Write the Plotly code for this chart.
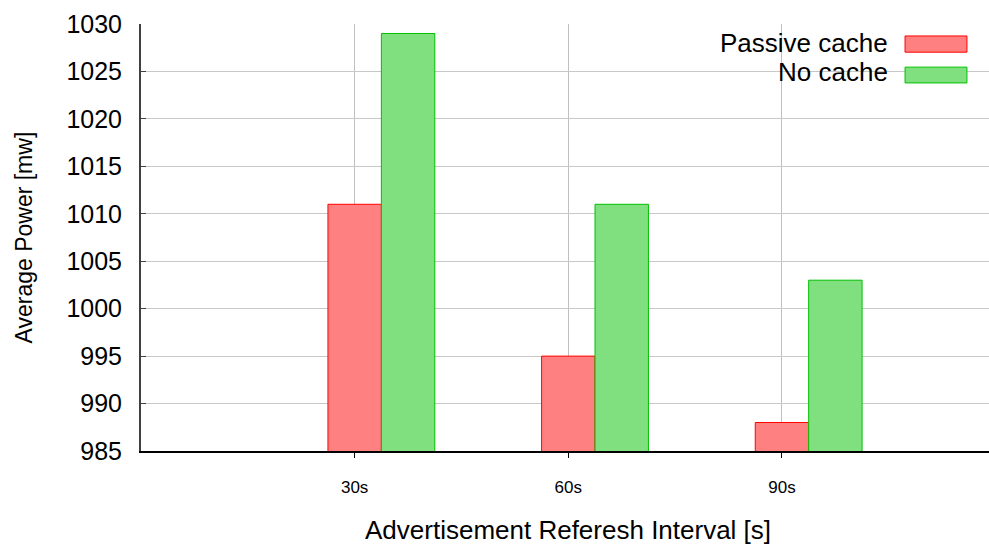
import plotly.graph_objects as go

categories = ["30s", "60s", "90s"]
passive_cache = [1011, 995, 988]
no_cache = [1029, 1011, 1003]
y_ticks = [985, 990, 995, 1000, 1005, 1010, 1015, 1020, 1025, 1030]

FONT = "Arial, Liberation Sans, sans-serif"
RED_FILL, RED_LINE = "#ff8080", "#ff0000"
GREEN_FILL, GREEN_LINE = "#80e080", "#00c000"

fig = go.Figure()
fig.add_trace(go.Bar(
    x=categories, y=passive_cache, name="Passive cache",
    width=0.25, offset=-0.125,
    marker=dict(color=RED_FILL, line=dict(color=RED_LINE, width=1)),
    showlegend=False,
))
fig.add_trace(go.Bar(
    x=categories, y=no_cache, name="No cache",
    width=0.25, offset=0.125,
    marker=dict(color=GREEN_FILL, line=dict(color=GREEN_LINE, width=1)),
    showlegend=False,
))

fig.update_layout(
    width=989, height=547,
    margin=dict(l=141, r=0, t=24, b=96),
    paper_bgcolor="white", plot_bgcolor="white",
    font=dict(family=FONT, color="black"),
    barmode="overlay",
    xaxis=dict(
        type="category", range=[-1, 2.969],
        showgrid=True, gridcolor="#c0c0c0", gridwidth=1,
        showline=True, linecolor="black", linewidth=1.5,
        ticks="outside", ticklen=5, tickcolor="black",
        tickfont=dict(size=17, family=FONT),
        ticklabelstandoff=15,
        zeroline=False,
    ),
    yaxis=dict(
        range=[985, 1030], tickvals=y_ticks,
        showgrid=True, gridcolor="#c8c8c8", gridwidth=1,
        showline=True, linecolor="#404040", linewidth=2,
        ticks="inside", ticklen=5, tickcolor="#404040",
        tickfont=dict(size=25, family=FONT),
        ticklabelstandoff=12,
        zeroline=False,
    ),
)

# legend (gnuplot style: text right-aligned, swatch on the right)
fig.add_shape(type="rect", xref="paper", yref="paper",
              x0=0.663, x1=0.994, y0=0.845, y1=0.993,
              fillcolor="white", line=dict(width=0), layer="between")
legend_items = [("Passive cache", RED_FILL, RED_LINE, 0.955, 0.972, 0.934),
                ("No cache", GREEN_FILL, GREEN_LINE, 0.888, 0.899, 0.862)]
for text, fill, line, yc, y1, y0 in legend_items:
    fig.add_annotation(text=text, xref="paper", yref="paper",
                       x=0.883, y=yc, xanchor="right", yanchor="middle",
                       showarrow=False, font=dict(size=26, family=FONT))
    fig.add_shape(type="rect", xref="paper", yref="paper",
                  x0=0.901, x1=0.974, y0=y0, y1=y1,
                  fillcolor=fill, line=dict(color=line, width=1), layer="above")

# axis titles
fig.add_annotation(text="Average Power [mw]", xref="paper", yref="paper",
                   x=0, y=0.5, xshift=-118, textangle=-90,
                   xanchor="center", yanchor="middle", showarrow=False,
                   font=dict(size=23, family=FONT))
fig.add_annotation(text="Advertisement Referesh Interval [s]", xref="paper", yref="paper",
                   x=0.5, y=0, xshift=3, yshift=-79,
                   xanchor="center", yanchor="middle", showarrow=False,
                   font=dict(size=26, family=FONT))

fig.write_html("out.html")
